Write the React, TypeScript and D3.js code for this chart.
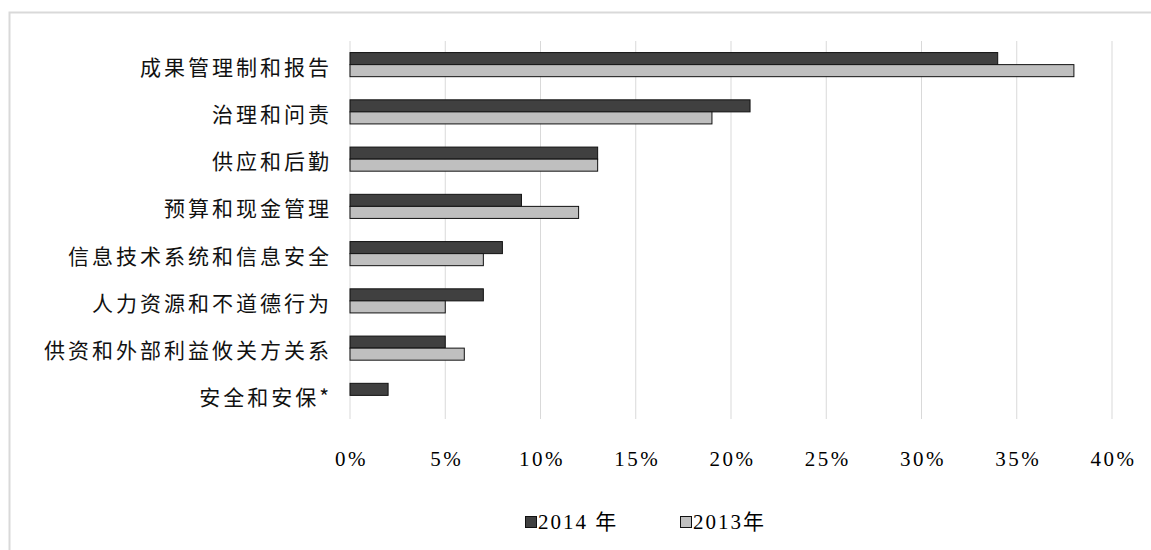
import React from "react";
import * as d3 from "d3";

const categories = [
  "成果管理制和报告",
  "治理和问责",
  "供应和后勤",
  "预算和现金管理",
  "信息技术系统和信息安全",
  "人力资源和不道德行为",
  "供资和外部利益攸关方关系",
  "安全和安保*",
];
const values2014 = [34, 21, 13, 9, 8, 7, 5, 2];
const values2013 = [38, 19, 13, 12, 7, 5, 6, 0];
const tickValues = [0, 5, 10, 15, 20, 25, 30, 35, 40];
const seriesNames = ["2014 年", "2013年"];
const seriesColors = ["#404040", "#bfbfbf"];

const W = 1151;
const H = 550;

export default function App() {
  const x = d3.scaleLinear().domain([0, 40]).range([350, 1112]);
  const y = d3
    .scaleBand<string>()
    .domain(categories)
    .range([41, 419])
    .paddingInner(0.49)
    .paddingOuter(0.245);
  const bw = y.bandwidth() / 2;
  const series = [values2014, values2013];

  return (
    <svg
      width={W}
      height={H}
      style={{ position: "absolute", left: 0, top: 0, background: "#fff" }}
    >
      <rect x={9.5} y={12.5} width={W + 20} height={H + 20} fill="#fff" stroke="#d9d9d9" strokeWidth={2} />
      {tickValues.map((t) => (
        <line key={"g" + t} x1={x(t)} x2={x(t)} y1={41} y2={419} stroke="#d9d9d9" strokeWidth={1} />
      ))}
      {categories.map((c, i) => (
        <g key={c}>
          {series.map((s, j) =>
            s[i] > 0 ? (
              <rect
                key={j}
                x={x(0)}
                y={(y(c) as number) + j * bw}
                width={x(s[i]) - x(0)}
                height={bw}
                fill={seriesColors[j]}
                stroke="#111"
                strokeWidth={1}
              />
            ) : null
          )}
          <text
            x={332}
            y={(y(c) as number) + y.bandwidth() / 2 + 1}
            textAnchor="end"
            dominantBaseline="central"
            fontFamily="'Noto Sans CJK SC', sans-serif"
            fontSize={21}
            letterSpacing={3}
            fill="#111"
          >
            {c}
          </text>
        </g>
      ))}
      {tickValues.map((t) => (
        <text
          key={"t" + t}
          x={x(t) + 1.5}
          y={466}
          textAnchor="middle"
          fontFamily="'Liberation Serif', serif"
          fontSize={21}
          letterSpacing={2.5}
          fill="#000"
        >
          {t + "%"}
        </text>
      ))}
      {seriesNames.map((n, j) => {
        const lx = j === 0 ? 525 : 680;
        return (
          <g key={n}>
            <rect x={lx + 0.5} y={516.5} width={11} height={11} fill={seriesColors[j]} stroke="#111" strokeWidth={1} />
            <text
              x={lx + 13}
              y={529}
              fontFamily="'Liberation Serif', 'Noto Sans CJK SC', serif"
              fontSize={21}
              letterSpacing={2}
              fill="#000"
            >
              {n}
            </text>
          </g>
        );
      })}
    </svg>
  );
}
